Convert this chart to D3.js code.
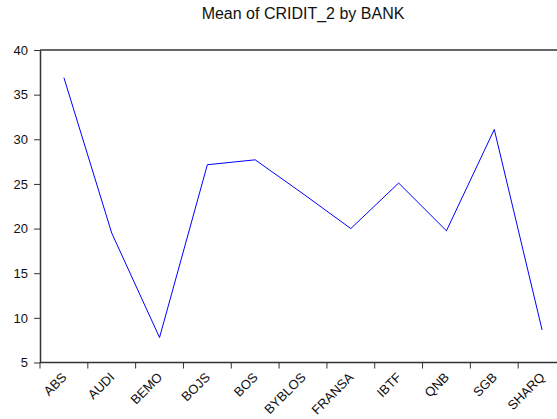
<!DOCTYPE html>
<html lang="en">
<head>
  <meta charset="utf-8">
  <title>Mean of CRIDIT_2 by BANK</title>
  <script src="https://cdn.jsdelivr.net/npm/d3@7/dist/d3.min.js"></script>
  <style>
    body { margin: 0; background: #fff; font-family: "Liberation Sans", Arial, sans-serif; }
    svg { display: block; }
  </style>
</head>
<body>
  <svg id="chart" width="557" height="419"></svg>
  <script>
    // data
    const banks = ["ABS","AUDI","BEMO","BOJS","BOS","BYBLOS","FRANSA","IBTF","QNB","SGB","SHARQ"];
    const meanCredit = [36.9, 19.5, 7.8, 27.15, 27.7, 23.9, 20.0, 25.1, 19.75, 31.1, 8.65];
    const yTicks = [5, 10, 15, 20, 25, 30, 35, 40];

    const width = 557, height = 419;
    const margin = { top: 50, right: -9, bottom: 56.5, left: 40 };
    const svg = d3.select("#chart");

    const x = d3.scaleBand()
      .domain(banks)
      .range([margin.left, width - margin.right]);

    const y = d3.scaleLinear()
      .domain([5, 40])
      .range([height - margin.bottom, margin.top]);

    const axisColor = "#333";

    // title
    svg.append("text")
      .attr("x", (margin.left + width - margin.right) / 2)
      .attr("y", 19)
      .attr("text-anchor", "middle")
      .attr("font-size", 16)
      .attr("fill", "#111")
      .text("Mean of CRIDIT_2 by BANK");

    // top border of the frame
    svg.append("line")
      .attr("x1", margin.left).attr("x2", width)
      .attr("y1", y(40)).attr("y2", y(40))
      .attr("stroke", axisColor)
      .attr("stroke-width", 1.5);

    // y axis
    const yAxis = svg.append("g")
      .attr("transform", `translate(${margin.left},0)`)
      .call(d3.axisLeft(y).tickValues(yTicks).tickSize(6).tickPadding(6).tickSizeOuter(0));
    yAxis.select(".domain").attr("stroke", axisColor).attr("stroke-width", 1.5);
    yAxis.selectAll(".tick line").attr("stroke", axisColor);
    yAxis.selectAll("text").attr("font-size", 13).attr("fill", "#111")
      .attr("font-family", "Liberation Sans, Arial, sans-serif");

    // x axis: ticks sit between the categories
    const xAxisG = svg.append("g")
      .attr("transform", `translate(0,${y(5)})`);
    xAxisG.append("line")
      .attr("x1", margin.left).attr("x2", width)
      .attr("stroke", axisColor).attr("stroke-width", 1.5);
    xAxisG.selectAll("line.tk")
      .data(banks)
      .enter().append("line")
        .attr("class", "tk")
        .attr("x1", d => x(d)).attr("x2", d => x(d))
        .attr("y1", 0).attr("y2", 6)
        .attr("stroke", axisColor);
    xAxisG.selectAll("text")
      .data(banks)
      .enter().append("text")
        .attr("transform", d => `translate(${x(d) + x.bandwidth() / 2 - 3},9) rotate(-45)`)
        .attr("text-anchor", "end")
        .attr("dy", "0.71em")
        .attr("font-size", 13)
        .attr("fill", "#111")
        .text(d => d);

    // the line
    const line = d3.line()
      .x((d, i) => x(banks[i]) + x.bandwidth() / 2)
      .y(d => y(d));

    svg.append("path")
      .datum(meanCredit)
      .attr("fill", "none")
      .attr("stroke", "#0000ff")
      .attr("stroke-width", 1)
      .attr("d", line);
  </script>
</body>
</html>
